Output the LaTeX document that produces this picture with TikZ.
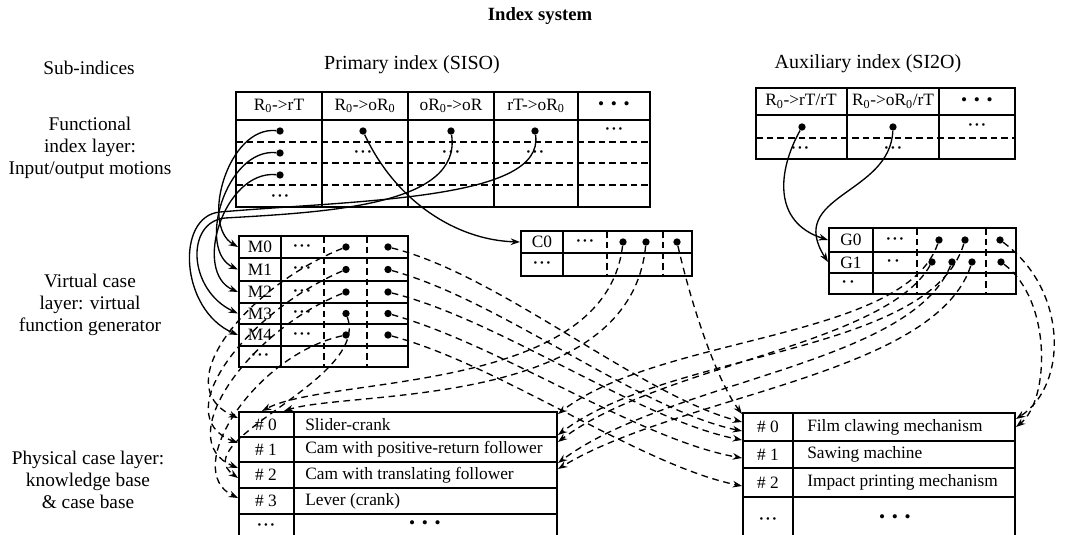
\documentclass[tikz,border=0pt]{standalone}
\usepackage{fontspec}
\setmainfont{Liberation Serif}
\usetikzlibrary{arrows.meta}
\newcommand{\mybig}{\textbullet\hspace{5pt}\textbullet\hspace{5pt}\textbullet}
\newcommand{\mysm}{{\fontsize{8}{9}\selectfont\textbullet\hspace{2pt}\textbullet\hspace{2pt}\textbullet}}
\newcommand{\mytwo}{{\fontsize{8}{9}\selectfont\textbullet\hspace{3pt}\textbullet}}
\begin{document}
\begin{tikzpicture}[x=0.75pt,y=-0.75pt,
 tb/.style={line width=1.4pt},
 tbd/.style={line width=1.2pt,dash pattern=on 5pt off 3pt},
 dotn/.style={circle,fill,inner sep=0pt,minimum size=5.5pt},
 lab/.style={font=\fontsize{14.5}{16.5}\selectfont,align=center,inner sep=0pt},
 head/.style={font=\fontsize{15}{18}\selectfont,inner sep=0pt},
 cell/.style={font=\fontsize{13}{15}\selectfont,inner sep=0pt},
 sol/.style={line width=1pt,-{Stealth[length=7pt,width=5pt]}},
 dsh/.style={line width=1pt,dash pattern=on 5pt off 3.5pt,-{Stealth[length=7pt,width=5pt]}},
]
\useasboundingbox (0,0) rectangle (1065,535);

% ---------- labels
\node[font=\bfseries\fontsize{14}{16}\selectfont] (title) at (540,16) {Index system};
\node[lab] (sub) at (89,68) {Sub-indices};
\node[head] (prim) at (412,65) {Primary index (SISO)};
\node[head] (aux) at (868,64) {Auxiliary index (SI2O)};
\node[lab] (fil) at (90,148) {Functional\\index layer:\\Input/output motions};
\node[lab] (vcl) at (90,305) {Virtual case\\layer: virtual\\function generator};
\node[lab] (pcl) at (88,480) {Physical case layer:\\knowledge base\\\& case base};

% ---------- primary index table
\draw[tb] (236,92) rectangle (650,207);
\draw[tb] (236,120) -- (650,120);
\foreach \x in {322,408,494,578} \draw[tb] (\x,92) -- (\x,207);
\foreach \y in {142,163,185} \draw[tbd] (236,\y) -- (650,\y);
\node[cell] (ph1) at (279,106) {R\textsubscript{0}->rT};
\node[cell] (ph2) at (365,106) {R\textsubscript{0}->oR\textsubscript{0}};
\node[cell] (ph3) at (451,106) {oR\textsubscript{0}->oR};
\node[cell] (ph4) at (536,106) {rT->oR\textsubscript{0}};
\node[cell] (ph5) at (614,106) {\mybig};
\node[dotn] (p11) at (280,131) {};
\node[dotn] (p12) at (280,153) {};
\node[dotn] (p13) at (280,175) {};
\node[cell] (p14) at (280,197) {\mysm};
\node[dotn] (p2) at (363,131) {};
\node[cell] (p22) at (363,153) {\mysm};
\node[dotn] (p3) at (451,131) {};
\node[cell] (p32) at (451,153) {\mysm};
\node[dotn] (p4) at (535,131) {};
\node[cell] (p42) at (535,153) {\mysm};
\node[cell] (p5) at (614,130) {\mysm};

% ---------- auxiliary index table
\draw[tb] (756,88) rectangle (1015,159);
\draw[tb] (756,115) -- (1015,115);
\draw[tb] (847,88) -- (847,159);
\draw[tb] (939,88) -- (939,159);
\draw[tbd] (756,138) -- (1015,138);
\node[cell] (ah1) at (801,101.5) {R\textsubscript{0}->rT/rT};
\node[cell] (ah2) at (893,101.5) {R\textsubscript{0}->oR\textsubscript{0}/rT};
\node[cell] (ah3) at (977,101.5) {\mybig};
\node[dotn] (a1) at (802,127) {};
\node[cell] (a12) at (800,149) {\mysm};
\node[dotn] (a2) at (893,127) {};
\node[cell] (a22) at (893,149) {\mysm};
\node[cell] (a3) at (977,126) {\mysm};

% ---------- virtual case table M
\draw[tb] (239,236) rectangle (408,367);
\foreach \y in {258,281,303,324,346} \draw[tb] (239,\y) -- (408,\y);
\draw[tb] (281,236) -- (281,367);
\draw[tbd] (324,236) -- (324,367);
\draw[tbd] (367,236) -- (367,367);
\foreach \i/\y in {0/247,1/269.5,2/292,3/313.5,4/335}{
  \node[cell] (m\i) at (260,\y) {M\i};
  \node[cell] (mc2\i) at (302,\y) {\mysm};
  \node[dotn] (mc3\i) at (346,\y) {};
  \node[dotn] (mc4\i) at (388,\y) {};
  \coordinate (mi\i) at (238,\y);
}
\node[cell] (m5) at (260,356.5) {\mysm};

% ---------- C0 table
\draw[tb] (521,231) rectangle (692,276);
\draw[tb] (521,253) -- (692,253);
\draw[tb] (563,231) -- (563,276);
\draw[tbd] (607,231) -- (607,276);
\draw[tbd] (663,231) -- (663,276);
\node[cell] (c0) at (542,242) {C0};
\node[cell] (c02) at (585,242) {\mysm};
\node[dotn] (c03a) at (623,242) {};
\node[dotn] (c03b) at (646,242) {};
\node[dotn] (c04) at (677,242) {};
\node[cell] (c1) at (542,264.5) {\mysm};
\coordinate (c0in) at (520,242);

% ---------- G table
\draw[tb] (829,228) rectangle (1016,294);
\draw[tb] (829,252) -- (1016,252);
\draw[tb] (829,273) -- (1016,273);
\draw[tb] (873,228) -- (873,294);
\draw[tbd] (917,228) -- (917,294);
\draw[tbd] (986,228) -- (986,294);
\node[cell] (g0) at (851,240) {G0};
\node[cell] (g02) at (895,240) {\mysm};
\node[dotn] (g0a) at (939,240) {};
\node[dotn] (g0b) at (965,240) {};
\node[dotn] (g0c) at (1000,240) {};
\node[cell] (g1) at (851,262.5) {G1};
\node[cell] (g12) at (893,262.5) {\mytwo};
\node[dotn] (g1a) at (932,262) {};
\node[dotn] (g1b) at (952,262) {};
\node[dotn] (g1c) at (972,262) {};
\node[dotn] (g1d) at (1001,262) {};
\node[cell] (g2) at (848,283.5) {\mytwo};
\coordinate (gi0) at (828,240);
\coordinate (gi1) at (828,262);

% ---------- physical table 1
\draw[tb] (239,535) -- (239,412) -- (557,412) -- (557,535);
\foreach \y in {437,462,488,514} \draw[tb] (239,\y) -- (557,\y);
\draw[tb] (294,412) -- (294,535);
\node[cell] (k0) at (266,424.5) {\# 0};
\node[cell,anchor=west] (k0t) at (305,424.5) {Slider-crank};
\node[cell] (k1) at (266,449.5) {\# 1};
\node[cell,anchor=west] (k1t) at (305,449.5) {Cam with positive-return follower};
\node[cell] (k2) at (266,475) {\# 2};
\node[cell,anchor=west] (k2t) at (305,475) {Cam with translating follower};
\node[cell] (k3) at (266,501) {\# 3};
\node[cell,anchor=west] (k3t) at (305,501) {Lever (crank)};
\node[cell] (k4) at (266,526) {\mysm};
\node[cell] (k4t) at (425,525) {\mybig};
\coordinate (t1l1) at (238,418);
\coordinate (t1l2) at (238,443);
\coordinate (t1l3) at (238,468);
\coordinate (t1l4) at (238,478);
\coordinate (t1l5) at (238,498);
\coordinate (t1t1) at (262,411);
\coordinate (t1t2) at (284,411);
\coordinate (t1r1) at (558,414);
\coordinate (t1r2) at (558,435);
\coordinate (t1r3) at (558,442);
\coordinate (t1r4) at (558,463);
\coordinate (t1r5) at (558,469);

% ---------- physical table 2
\draw[tb] (743,535) -- (743,413) -- (1015,413) -- (1015,535);
\foreach \y in {441,468,497} \draw[tb] (743,\y) -- (1015,\y);
\draw[tb] (793,413) -- (793,535);
\node[cell] (f0) at (768,427) {\# 0};
\node[cell,anchor=west] (f0t) at (807,427) {Film clawing mechanism};
\node[cell] (f1) at (768,454.5) {\# 1};
\node[cell,anchor=west] (f1t) at (807,454.5) {Sawing machine};
\node[cell] (f2) at (768,482.5) {\# 2};
\node[cell,anchor=west] (f2t) at (807,482.5) {Impact printing mechanism};
\node[cell] (f3) at (768,520) {\mysm};
\node[cell] (f3t) at (895,519) {\mybig};
\coordinate (t2l0) at (742,414);
\coordinate (t2l1) at (742,422);
\coordinate (t2l2) at (742,431);
\coordinate (t2l3) at (742,440);
\coordinate (t2l4) at (742,458);
\coordinate (t2l5) at (742,486);
\coordinate (t2r1) at (1016,419);
\coordinate (t2r2) at (1016,427);

% ---------- solid connectors (functional -> virtual)
\draw[sol] (p11) .. controls (228,126) and (200,225) .. (mi0);
\draw[sol] (p12) .. controls (226,148) and (196,250) .. (mi1);
\draw[sol] (p13) .. controls (224,170) and (192,272) .. (mi2);
\draw[sol] (p3) .. controls (462,205) and (330,212) .. (225,218) .. controls (185,222) and (188,290) .. (mi3);
\draw[sol] (p4) .. controls (545,200) and (360,200) .. (220,212) .. controls (175,216) and (180,310) .. (mi4);
\draw[sol] (p2) .. controls (395,200) and (455,240) .. (c0in);
\draw[sol] (a1) .. controls (778,170) and (772,222) .. (gi0);
\draw[sol] (a2) .. controls (890,195) and (785,195) .. (gi1);

% ---------- dashed connectors (virtual -> physical)
\draw[dsh] (mc40) .. controls (500,275) and (640,395) .. (t2l1);
\draw[dsh] (mc41) .. controls (500,300) and (640,410) .. (t2l2);
\draw[dsh] (mc42) .. controls (500,320) and (640,420) .. (t2l3);
\draw[dsh] (mc43) .. controls (500,345) and (640,440) .. (t2l4);
\draw[dsh] (mc44) .. controls (500,365) and (640,465) .. (t2l5);
\draw[dsh] (c04) .. controls (695,320) and (720,385) .. (t2l0);

\draw[dsh] (mc30) .. controls (250,285) and (165,385) .. (t1l1);
\draw[dsh] (mc31) .. controls (250,310) and (165,415) .. (t1l2);
\draw[dsh] (mc32) .. controls (250,330) and (170,440) .. (t1l3);
\draw[dsh] (mc33) .. controls (370,380) and (185,440) .. (t1l4);
\draw[dsh] (mc34) .. controls (255,355) and (180,470) .. (t1l5);

\draw[dsh] (c03a) .. controls (605,395) and (330,375) .. (t1t1);
\draw[dsh] (c03b) .. controls (630,410) and (350,390) .. (t1t2);

\draw[dsh] (g0a) .. controls (905,340) and (660,335) .. (t1r1);
\draw[dsh] (g0b) .. controls (930,355) and (670,350) .. (t1r2);
\draw[dsh] (g1a) .. controls (885,345) and (660,365) .. (t1r3);
\draw[dsh] (g1b) .. controls (910,365) and (670,380) .. (t1r4);
\draw[dsh] (g1c) .. controls (935,375) and (680,395) .. (t1r5);

\draw[dsh] (g0c) .. controls (1068,290) and (1068,385) .. (t2r1);
\draw[dsh] (g1d) .. controls (1052,300) and (1050,400) .. (t2r2);
\end{tikzpicture}
\end{document}
